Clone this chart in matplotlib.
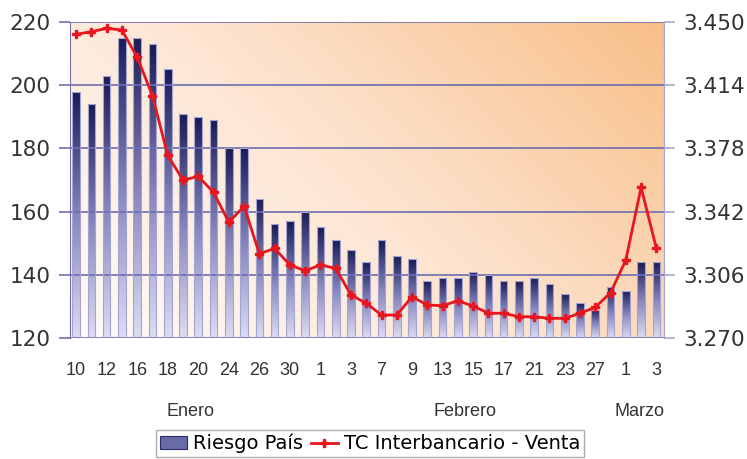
import matplotlib
matplotlib.use("Agg")
import matplotlib.pyplot as plt
import numpy as np
from matplotlib.colors import LinearSegmentedColormap
from matplotlib.lines import Line2D
from matplotlib.patches import Patch

# Riesgo país (pb) y tipo de cambio interbancario venta (S/. por US$)
riesgo_pais = [198, 194, 203, 215, 215, 213, 205, 191, 190, 189,
               180, 180, 164, 156, 157, 160, 155, 151, 148, 144,
               151, 146, 145, 138, 139, 139, 141, 140, 138, 138,
               139, 137, 134, 131, 129, 136, 135, 144, 144]
tc_venta = [3.443, 3.4445, 3.4464, 3.4454, 3.430, 3.408, 3.374, 3.360, 3.362, 3.353,
            3.336, 3.345, 3.318, 3.321, 3.3116, 3.3083, 3.3116, 3.3097, 3.2945, 3.2898,
            3.2831, 3.2831, 3.2935, 3.2888, 3.2884, 3.2912, 3.2882, 3.2841, 3.2841, 3.2821,
            3.2821, 3.2812, 3.2812, 3.2841, 3.2875, 3.2958, 3.3144, 3.3558, 3.3211]
day_labels = ["10", "12", "16", "18", "20", "24", "26", "30", "1", "3",
              "7", "9", "13", "15", "17", "21", "23", "27", "1", "3"]
months = ["Enero", "Febrero", "Marzo"]

left_ticks = [120, 140, 160, 180, 200, 220]
right_ticks = [3.270, 3.306, 3.342, 3.378, 3.414, 3.450]

x = np.arange(len(riesgo_pais))
base = left_ticks[0]

fig = plt.figure(figsize=(7.47, 4.59), dpi=100)
ax = fig.add_axes([70 / 747, 1 - 338 / 459, 594 / 747, 316 / 459])

# peach background, lighter toward the lower left
gx, gy = np.meshgrid(np.linspace(0, 1, 200), np.linspace(1, 0, 200))
t = np.clip((gx * 1.0 + gy * 0.55) / 1.55, 0, 1)
bg_cmap = LinearSegmentedColormap.from_list("bg", ["#fffbf8", "#fde4d0", "#f8bf88"])
ax.imshow(t, cmap=bg_cmap, extent=[0, 1, 0, 1], transform=ax.transAxes,
          aspect="auto", zorder=0, vmin=0, vmax=1)
ax.patch.set_visible(False)

heights = np.array(riesgo_pais) - base
bars = ax.bar(x, heights, bottom=base, width=0.5, color="none",
              edgecolor="#a4a4d4", linewidth=0.8, zorder=3)
bar_cmap = LinearSegmentedColormap.from_list("bar", ["#dcdcf2", "#8585bc", "#1a1a55"])
grad = np.linspace(1, 0, 128).reshape(-1, 1)
for rect in bars:
    x0, y0 = rect.get_xy()
    im = ax.imshow(grad, cmap=bar_cmap, aspect="auto", zorder=2,
                   extent=[x0, x0 + rect.get_width(), y0, y0 + rect.get_height()])
    im.set_clip_path(rect)

for yv in left_ticks:
    ax.axhline(yv, color="#6c6cae", lw=1.2, zorder=2.5)

ax.set_xlim(-0.4, len(x) - 0.5)
ax.set_ylim(left_ticks[0], left_ticks[-1])
ax.set_yticks(left_ticks)
ax.set_xticks(x[::2])
ax.set_xticklabels(day_labels, family=["Liberation Sans Narrow", "Liberation Sans"],
                   fontsize=13, color="#333333")
ax.tick_params(axis="x", length=0, pad=17)
ax.tick_params(axis="y", direction="out", length=8, width=1.2, color="#7070aa",
               labelsize=15.5, labelcolor="#333333", pad=6)
for side in ["top", "bottom"]:
    ax.spines[side].set_visible(False)
ax.spines["left"].set_color("#7070aa")
ax.spines["right"].set_color("#a8a8d0")

ax2 = ax.twinx()
ax2.plot(x, tc_venta, color="#e8161e", lw=2, marker="P", ms=6, zorder=5)
ax2.set_ylim(right_ticks[0], right_ticks[-1])
ax2.set_yticks(right_ticks)
ax2.set_yticklabels([f"{v:.3f}" for v in right_ticks])
ax2.tick_params(axis="y", direction="out", length=8, width=1.2, color="#a8a8d0",
                labelsize=15.5, labelcolor="#333333", pad=6)
for side in ["top", "bottom", "left"]:
    ax2.spines[side].set_visible(False)
ax2.spines["right"].set_color("#a8a8d0")

for name, xpos in zip(months, [190, 465, 640]):
    fig.text(xpos / 747, 1 - 411 / 459, name, ha="center", va="center",
             family=["Liberation Sans Narrow", "Liberation Sans"], fontsize=13,
             color="#333333")

handles = [
    Patch(facecolor="#6a6aa6", edgecolor="#2a2a6a", lw=0.8),
    Line2D([0], [0], color="#e8161e", lw=2, marker="P", ms=6),
]
leg = fig.legend(handles, ["Riesgo País", "TC Interbancario - Venta"],
                 loc="upper center", bbox_to_anchor=(370 / 747, 1 - 430 / 459),
                 ncol=2, fontsize=14, frameon=True, fancybox=False,
                 handlelength=1.4, handletextpad=0.3, columnspacing=0.4,
                 borderpad=0.2, borderaxespad=0.0, edgecolor="#9a9a9a")
leg.get_frame().set_linewidth(1.0)

fig.savefig("out.png", dpi=100)
